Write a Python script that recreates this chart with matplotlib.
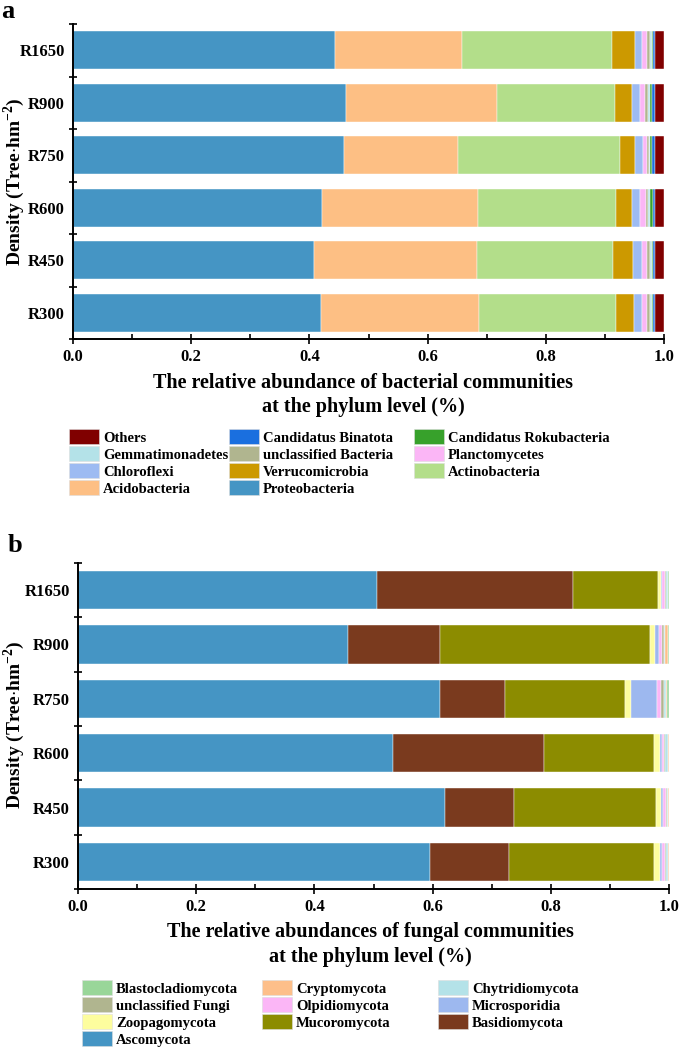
import matplotlib
matplotlib.use("Agg")
import matplotlib.pyplot as plt
from matplotlib.patches import Patch
import numpy as np

plt.rcParams['font.family'] = ['Liberation Serif', 'DejaVu Serif']
plt.rcParams['font.weight'] = 'bold'
plt.rcParams['mathtext.fontset'] = 'custom'
plt.rcParams['mathtext.rm'] = 'Liberation Serif:bold'
plt.rcParams['mathtext.bf'] = 'Liberation Serif:bold'

# ---------------- data ----------------
samples = ["R300", "R450", "R600", "R750", "R900", "R1650"]

# Bacteria (stack order left -> right), values per sample in order of `samples`
bac_names = ["Proteobacteria", "Acidobacteria", "Actinobacteria", "Verrucomicrobia",
             "Chloroflexi", "Planctomycetes", "unclassified Bacteria", "Gemmatimonadetes",
             "Candidatus Rokubacteria", "Candidatus Binatota", "Others"]
bac_colors = ["#4595c4", "#fdbf84", "#b3de8a", "#cc9900", "#9dbbf2", "#fbb6f6",
              "#b0b58f", "#b4e2e8", "#37a12b", "#1a6fdf", "#800000"]
proteobacteria   = [0.420, 0.408, 0.421, 0.459, 0.462, 0.443]
acidobacteria    = [0.267, 0.276, 0.264, 0.193, 0.255, 0.216]
actinobacteria   = [0.232, 0.229, 0.234, 0.274, 0.200, 0.253]
verrucomicrobia  = [0.030, 0.035, 0.027, 0.025, 0.029, 0.039]
chloroflexi      = [0.014, 0.015, 0.014, 0.013, 0.013, 0.012]
planctomycetes   = [0.009, 0.009, 0.010, 0.007, 0.009, 0.009]
unclass_bacteria = [0.004, 0.004, 0.003, 0.004, 0.005, 0.004]
gemmatimonadetes = [0.003, 0.003, 0.004, 0.002, 0.003, 0.004]
rokubacteria     = [0.002, 0.003, 0.004, 0.003, 0.003, 0.002]
binatota         = [0.003, 0.002, 0.003, 0.004, 0.006, 0.002]
bac_others       = [0.016, 0.016, 0.016, 0.016, 0.015, 0.016]
bac_values = [proteobacteria, acidobacteria, actinobacteria, verrucomicrobia, chloroflexi,
              planctomycetes, unclass_bacteria, gemmatimonadetes, rokubacteria, binatota,
              bac_others]

# Fungi (stack order left -> right)
fun_names = ["Ascomycota", "Basidiomycota", "Mucoromycota", "Zoopagomycota", "Microsporidia",
             "Olpidiomycota", "unclassified Fungi", "Chytridiomycota", "Cryptomycota",
             "Blastocladiomycota"]
fun_colors = ["#4595c4", "#7a3a1e", "#8c8c00", "#fdfd9e", "#9db8ef", "#fbb6f6",
              "#b0b58f", "#b4e2e8", "#fdbf8a", "#99d699"]
ascomycota        = [0.596, 0.621, 0.533, 0.612, 0.457, 0.506]
basidiomycota     = [0.133, 0.117, 0.256, 0.110, 0.155, 0.332]
mucoromycota      = [0.246, 0.240, 0.186, 0.204, 0.356, 0.144]
zoopagomycota     = [0.010, 0.008, 0.009, 0.010, 0.008, 0.004]
microsporidia     = [0.003, 0.004, 0.004, 0.044, 0.007, 0.003]
olpidiomycota     = [0.005, 0.005, 0.004, 0.006, 0.006, 0.004]
unclass_fungi     = [0.002, 0.002, 0.002, 0.006, 0.003, 0.002]
chytridiomycota   = [0.004, 0.002, 0.005, 0.003, 0.002, 0.003]
cryptomycota      = [0.0005, 0.0005, 0.0005, 0.001, 0.005, 0.001]
blastocladiomycota = [0.0005, 0.0005, 0.0005, 0.004, 0.001, 0.001]
fun_values = [ascomycota, basidiomycota, mucoromycota, zoopagomycota, microsporidia,
              olpidiomycota, unclass_fungi, chytridiomycota, cryptomycota, blastocladiomycota]

x_ticks = [0.0, 0.2, 0.4, 0.6, 0.8, 1.0]

# legend rows as in the reference (row-major, 3 columns)
bac_legend_rows = [["Others", "Candidatus Binatota", "Candidatus Rokubacteria"],
                   ["Gemmatimonadetes", "unclassified Bacteria", "Planctomycetes"],
                   ["Chloroflexi", "Verrucomicrobia", "Actinobacteria"],
                   ["Acidobacteria", "Proteobacteria"]]
fun_legend_rows = [["Blastocladiomycota", "Cryptomycota", "Chytridiomycota"],
                   ["unclassified Fungi", "Olpidiomycota", "Microsporidia"],
                   ["Zoopagomycota", "Mucoromycota", "Basidiomycota"],
                   ["Ascomycota"]]

W, H = 685, 1058
fig = plt.figure(figsize=(W / 100, H / 100), dpi=100)


def px_axes(left, top, right, bottom):
    return fig.add_axes([left / W, 1 - bottom / H, (right - left) / W, (bottom - top) / H])


def draw_panel(ax, names, colors, values, bar_h):
    y = np.arange(len(samples))
    left = np.zeros(len(samples))
    for name, col, vals in zip(names, colors, values):
        v = np.array(vals)
        ax.barh(y, v, left=left, height=bar_h, color=col, edgecolor='white',
                linewidth=0.3, label=name)
        left += v
    ax.set_xlim(0, 1.0)
    ax.set_ylim(-0.5, len(samples) - 0.5)
    ax.set_yticks(y)
    ax.set_yticklabels(samples, fontsize=12, fontweight='bold')
    ax.set_yticks(np.arange(-0.5, len(samples)), minor=True)
    ax.tick_params(axis='y', which='major', length=0, pad=6)
    ax.tick_params(axis='y', which='minor', direction='inout', length=6, width=1.2)
    ax.set_xticks(x_ticks)
    ax.set_xticklabels([f"{t:.1f}" for t in x_ticks], fontsize=12, fontweight='bold')
    ax.set_xticks(np.arange(0.1, 1.0, 0.2), minor=True)
    ax.tick_params(axis='x', which='major', direction='inout', length=7, width=1.2, pad=4)
    ax.tick_params(axis='x', which='minor', direction='in', length=3.5, width=1.2)
    for s in ['top', 'right']:
        ax.spines[s].set_visible(False)
    for s in ['left', 'bottom']:
        ax.spines[s].set_linewidth(1.4)


def draw_legend(names, colors, rows, col_x, top_y):
    cmap = dict(zip(names, colors))
    ncols = max(len(r) for r in rows)
    fs = 10.5
    fpx = fs * 100 / 72
    for c in range(ncols):
        labels = [r[c] for r in rows if len(r) > c]
        handles = [Patch(facecolor=cmap[l], edgecolor='#dddddd', linewidth=0.4) for l in labels]
        fig.legend(handles, labels, loc='upper left',
                   bbox_to_anchor=(col_x[c] / W, 1 - top_y / H),
                   bbox_transform=fig.transFigure, frameon=False,
                   prop={'family': 'Liberation Serif', 'weight': 'bold', 'size': fs},
                   handlelength=30 / fpx, handleheight=18 / fpx, handletextpad=4 / fpx,
                   labelspacing=1.5 / fpx, borderpad=0, borderaxespad=0)


# ---------------- panel a ----------------
ax1 = px_axes(73, 24, 664, 339)
draw_panel(ax1, bac_names, bac_colors, bac_values, 0.72)
fig.text(14 / W, 1 - 182 / H, "Density (Tree$\\cdot$hm$^{-2}$)", rotation=90,
         ha='center', va='center', fontsize=14, fontweight='bold')
fig.text(363 / W, 1 - 383 / H, "The relative abundance of bacterial communities",
         ha='center', va='center', fontsize=14.5, fontweight='bold')
fig.text(363 / W, 1 - 407 / H, "at the phylum level (%)",
         ha='center', va='center', fontsize=14.5, fontweight='bold')
fig.text(8 / W, 1 - 11 / H, "a", ha='center', va='center', fontsize=19, fontweight='bold')
draw_legend(bac_names, bac_colors, bac_legend_rows, [69, 229, 414], 429)

# ---------------- panel b ----------------
ax2 = px_axes(78, 563, 669, 889)
draw_panel(ax2, fun_names, fun_colors, fun_values, 0.71)
fig.text(14 / W, 1 - 725 / H, "Density (Tree$\\cdot$hm$^{-2}$)", rotation=90,
         ha='center', va='center', fontsize=14, fontweight='bold')
fig.text(370 / W, 1 - 932 / H, "The relative abundances of fungal communities",
         ha='center', va='center', fontsize=14.5, fontweight='bold')
fig.text(370 / W, 1 - 957 / H, "at the phylum level (%)",
         ha='center', va='center', fontsize=14.5, fontweight='bold')
fig.text(15 / W, 1 - 546 / H, "b", ha='center', va='center', fontsize=19, fontweight='bold')
draw_legend(fun_names, fun_colors, fun_legend_rows, [82, 262, 438], 980)

fig.savefig("out.png", dpi=100)
